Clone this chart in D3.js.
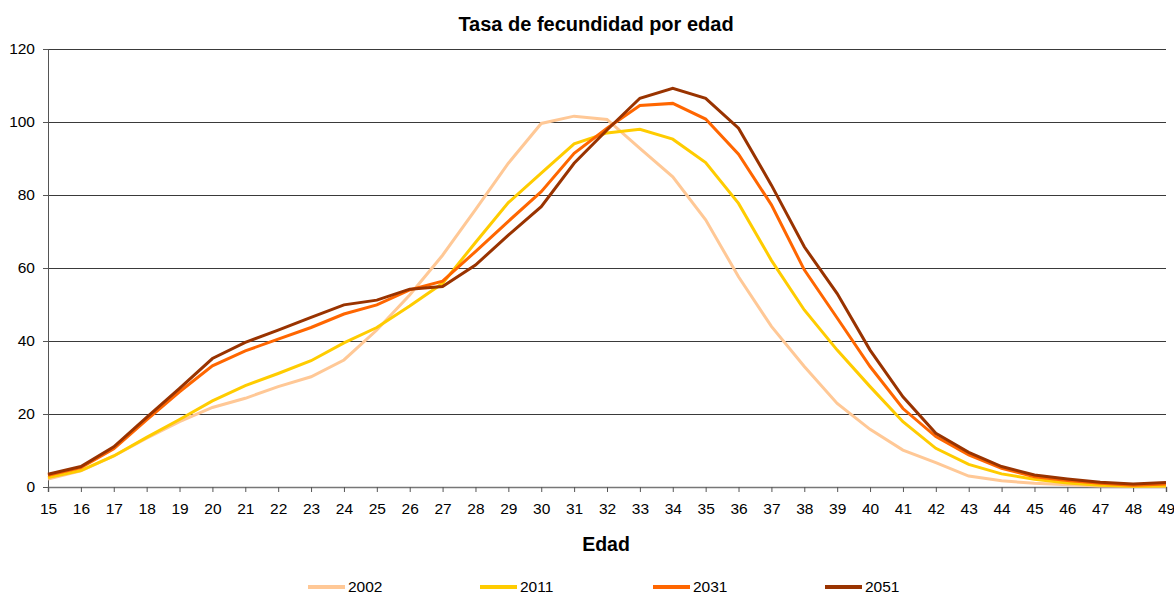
<!DOCTYPE html>
<html>
<head>
<meta charset="utf-8">
<script src="https://cdn.jsdelivr.net/npm/d3@7"></script>
<style>
  html, body { margin: 0; padding: 0; background: #fff; }
  svg { display: block; font-family: "Liberation Sans", Arial, sans-serif; }
</style>
</head>
<body>
<svg id="chart" width="1174" height="593"></svg>
<script>
const ages = [15,16,17,18,19,20,21,22,23,24,25,26,27,28,29,30,31,32,33,34,35,36,37,38,39,40,41,42,43,44,45,46,47,48,49];
const yTicks = [0,20,40,60,80,100,120];
const seriesNames = ["2002","2011","2031","2051"];
const seriesColors = ["#FFC896","#FFCC00","#FF6600","#993300"];
const v2002 = [2.2,4.4,8.5,13.4,17.9,21.8,24.3,27.5,30.2,34.8,43,52.6,63.5,76,88.7,99.6,101.6,100.7,92.8,85,73.2,57.6,44,33,22.9,15.8,10.1,6.7,3,1.7,1,0.6,0.3,0.2,0.2];
const v2011 = [2.6,4.5,8.5,13.6,18.5,23.6,27.8,31.1,34.6,39.5,43.7,49.6,55.8,67,77.9,86,94,97,98,95.3,88.9,77.7,62.1,48.5,37.5,27.5,17.9,10.6,6.2,3.6,2.1,1.1,0.5,0.2,0.3];
const v2031 = [3.2,5.3,10.5,18.4,26.1,33.2,37.3,40.5,43.7,47.4,49.9,54,56.4,64.5,72.8,80.9,91.4,98.3,104.5,105.1,100.8,91.2,77.3,59.5,46.3,33,21.5,13.8,8.8,5.1,2.8,1.8,1.0,0.5,0.8];
const v2051 = [3.5,5.6,11,19.1,27,35.2,39.6,43,46.5,49.9,51.2,54.2,54.9,60.8,69,76.8,88.7,97.8,106.5,109.2,106.5,98.3,82.7,65.8,53,37.5,24.7,14.7,9.5,5.6,3.3,2.2,1.3,0.8,1.2];
const seriesValues = [v2002, v2011, v2031, v2051];

const svg = d3.select("#chart");
const x = d3.scaleLinear().domain([15,49]).range([48,1166]);
const y = d3.scaleLinear().domain([0,120]).range([487,49]);

// gridlines
svg.append("g").selectAll("line").data(yTicks.filter(d => d > 0)).join("line")
  .attr("x1", x(15)).attr("x2", x(49))
  .attr("y1", d => Math.round(y(d)) + 0.5).attr("y2", d => Math.round(y(d)) + 0.5)
  .attr("stroke", "#3a3a3a").attr("stroke-width", 1);

// y axis
const yAxis = svg.append("g").attr("transform", `translate(${x(15)},0)`)
  .call(d3.axisLeft(y).tickValues(yTicks).tickSize(5).tickPadding(8).tickFormat(d3.format("d")));
yAxis.select(".domain").attr("stroke", "#555");
yAxis.selectAll(".tick line").attr("stroke", "#555");
yAxis.selectAll("text").attr("font-size", "15.5px").attr("fill", "#000").attr("font-family", "Liberation Sans, Arial, sans-serif");

// x axis
const xAxis = svg.append("g").attr("transform", `translate(0,${y(0)})`)
  .call(d3.axisBottom(x).tickValues(ages).tickSize(5).tickPadding(11).tickFormat(d3.format("d")));
xAxis.select(".domain").attr("stroke", "#777").attr("stroke-width", 1.5);
xAxis.selectAll(".tick line").attr("stroke", "#555");
xAxis.selectAll("text").attr("font-size", "15.5px").attr("fill", "#000").attr("font-family", "Liberation Sans, Arial, sans-serif");

// lines
const line = d3.line().x((d,i) => x(ages[i])).y(d => y(d));
svg.append("g").selectAll("path").data(seriesValues).join("path")
  .attr("d", d => line(d))
  .attr("fill", "none")
  .attr("stroke", (d,i) => seriesColors[i])
  .attr("stroke-width", 3)
  .attr("stroke-linejoin", "miter");

// title
svg.append("text").attr("x", 596).attr("y", 31).attr("text-anchor", "middle")
  .attr("font-size", "20px").attr("font-weight", "bold").text("Tasa de fecundidad por edad");

// x label
svg.append("text").attr("x", 606).attr("y", 551).attr("text-anchor", "middle")
  .attr("font-size", "19.5px").attr("font-weight", "bold").text("Edad");

// legend
const legendX = [308, 480, 653, 825];
const lg = svg.append("g").selectAll("g").data(seriesNames).join("g")
  .attr("transform", (d,i) => `translate(${legendX[i]},587)`);
lg.append("line").attr("x1", 0).attr("x2", 37).attr("y1", 0).attr("y2", 0)
  .attr("stroke", (d,i) => seriesColors[i]).attr("stroke-width", 4);
lg.append("text").attr("x", 40).attr("y", 4.5).attr("font-size", "15.5px").text(d => d);
</script>
</body>
</html>
